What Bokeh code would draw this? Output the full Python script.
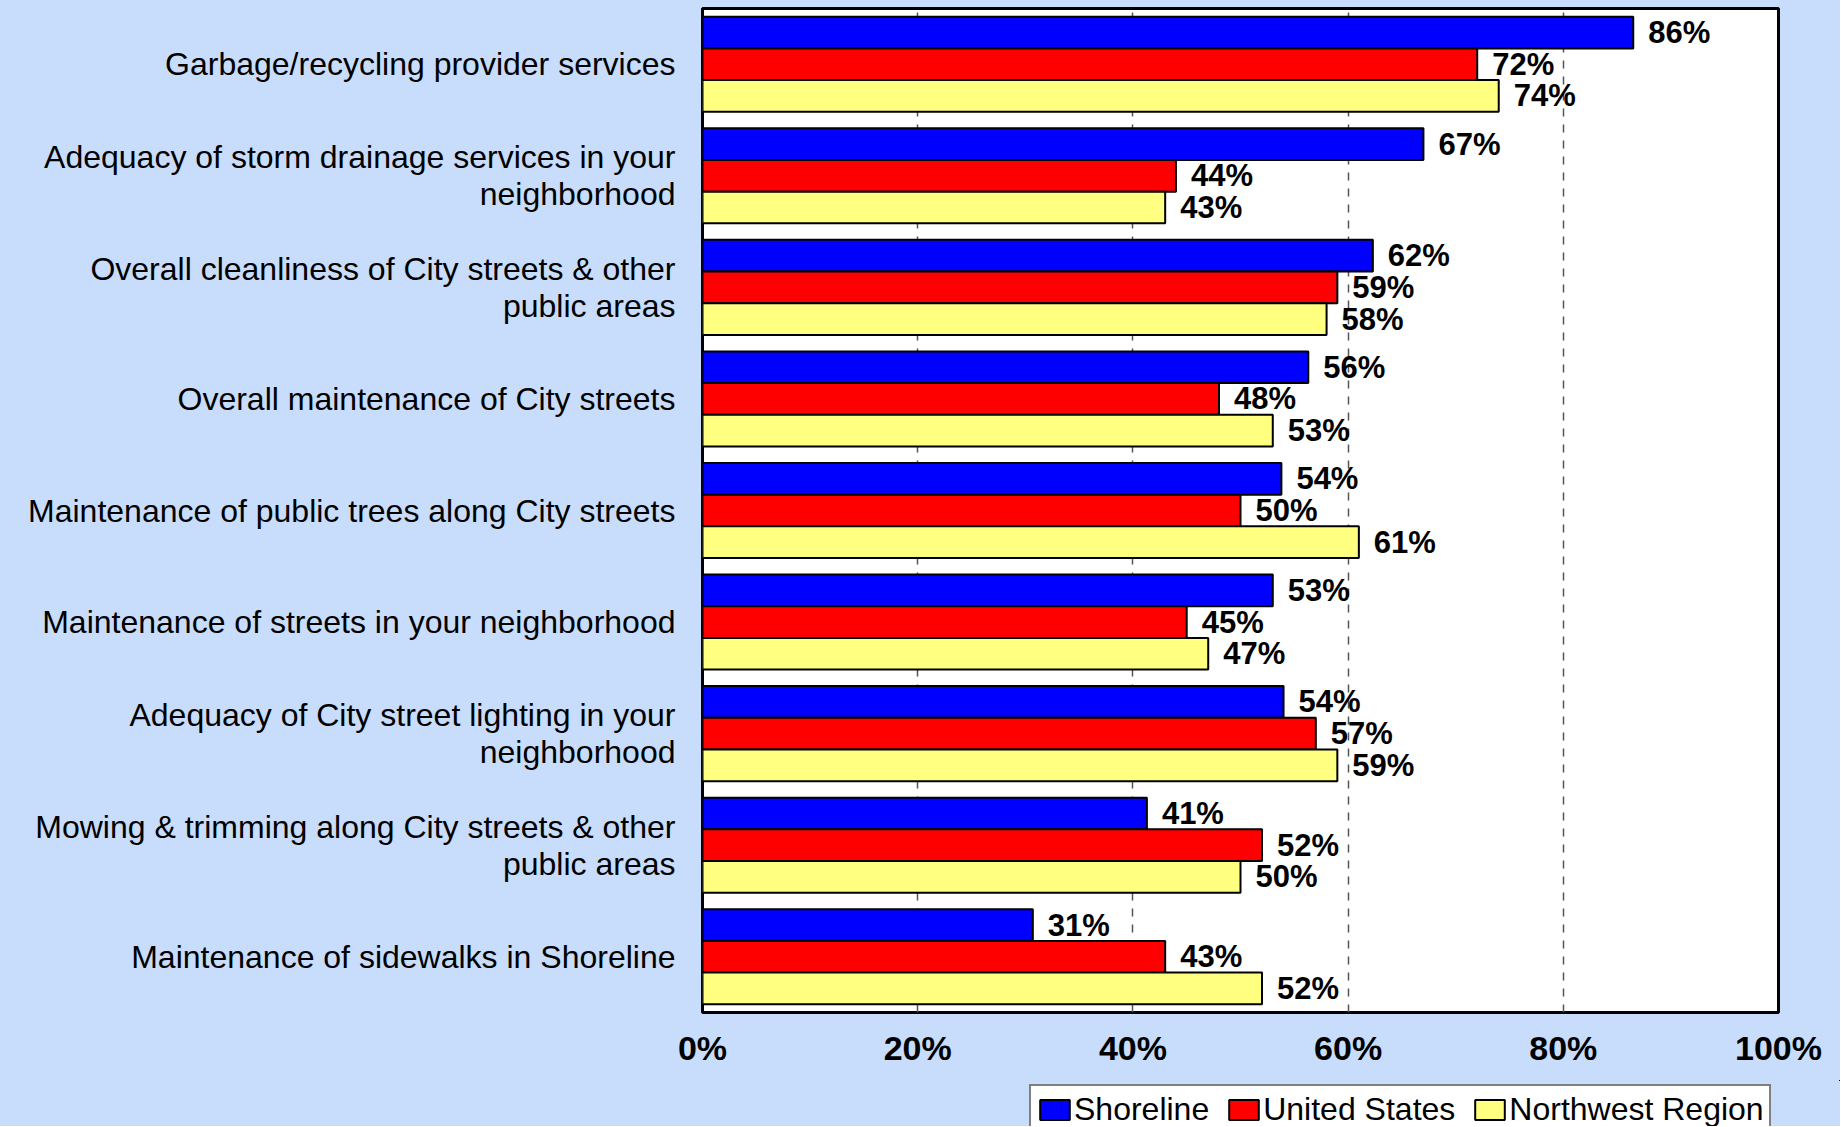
from bokeh.plotting import figure
from bokeh.layouts import row, column
from bokeh.models import (ColumnDataSource, FactorRange, Range1d, FixedTicker,
                          Legend, LegendItem)
from bokeh.transform import dodge
from bokeh.core.properties import value
from bokeh.embed import file_html
from bokeh.resources import INLINE

# ---------------- data ----------------
categories = [
    "Garbage/recycling provider services",
    "Adequacy of storm drainage services in your neighborhood",
    "Overall cleanliness of City streets & other public areas",
    "Overall maintenance of City streets",
    "Maintenance of public trees along City streets",
    "Maintenance of streets in your neighborhood",
    "Adequacy of City street lighting in your neighborhood",
    "Mowing & trimming along City streets & other public areas",
    "Maintenance of sidewalks in Shoreline",
]
category_labels = [
    "Garbage/recycling provider services",
    "Adequacy of storm drainage services in your\nneighborhood",
    "Overall cleanliness of City streets & other\npublic areas",
    "Overall maintenance of City streets",
    "Maintenance of public trees along City streets",
    "Maintenance of streets in your neighborhood",
    "Adequacy of City street lighting in your\nneighborhood",
    "Mowing & trimming along City streets & other\npublic areas",
    "Maintenance of sidewalks in Shoreline",
]
series_names = ["Shoreline", "United States", "Northwest Region"]
shoreline = [86.5, 67, 62.3, 56.3, 53.8, 53, 54, 41.3, 30.7]
united_states = [72, 44, 59, 48, 50, 45, 57, 52, 43]
northwest = [74, 43, 58, 53, 61, 47, 59, 50, 52]
tick_values = [0, 20, 40, 60, 80, 100]
tick_labels = ["0%", "20%", "40%", "60%", "80%", "100%"]

# ---------------- styling ----------------
BG = "#C8DCFC"
colors = ["#0000FF", "#FF0000", "#FFFF80"]
FONT = "Liberation Sans"
BAR_H = 0.284
offsets = [BAR_H, 0.0, -BAR_H]
TOTAL_W, TOTAL_H = 1840, 1126
CHART_H = 1080
TOP = 8
BOTTOM = CHART_H - 1012
LABEL_W = 676
PLOT_LEFT = 26


def pct(vals):
    return [f"{round(v)}%" for v in vals]


source = ColumnDataSource(dict(
    cat=categories,
    s0=shoreline, s1=united_states, s2=northwest,
    l0=pct(shoreline), l1=pct(united_states), l2=pct(northwest),
))
label_source = ColumnDataSource(dict(cat=categories, lab=category_labels,
                                     x=[1.0] * len(categories)))

yr = FactorRange(factors=list(reversed(categories)), range_padding=0)

# ---------- main chart ----------
p = figure(
    width=TOTAL_W - LABEL_W, height=CHART_H,
    y_range=yr, x_range=Range1d(0, 100),
    output_backend="svg", toolbar_location=None,
    min_border_left=PLOT_LEFT, min_border_right=TOTAL_W - LABEL_W - PLOT_LEFT - 1076,
    min_border_top=TOP, min_border_bottom=BOTTOM,
)
p.background_fill_color = "white"
p.border_fill_color = BG
p.outline_line_color = "black"
p.outline_line_width = 3

p.xgrid.ticker = FixedTicker(ticks=tick_values)
p.xgrid.grid_line_color = "#555555"
p.xgrid.grid_line_dash = "8 8"
p.xgrid.grid_line_width = 1.5
p.ygrid.grid_line_color = None

p.xaxis.ticker = FixedTicker(ticks=tick_values)
p.xaxis.major_label_overrides = {v: t for v, t in zip(tick_values, tick_labels)}
p.xaxis.axis_line_color = None
p.xaxis.major_tick_line_color = None
p.xaxis.minor_tick_line_color = None
p.xaxis.major_label_text_font = FONT
p.xaxis.major_label_text_font_style = "bold"
p.xaxis.major_label_text_font_size = "34px"
p.xaxis.major_label_text_color = "black"
p.xaxis.major_label_standoff = 10

p.yaxis.visible = False

for i, col in enumerate(colors):
    p.hbar(y=dodge("cat", offsets[i], range=yr), left=0, right=f"s{i}",
           height=BAR_H, source=source, fill_color=col,
           line_color="black", line_width=2)
    p.text(x=f"s{i}", y=dodge("cat", offsets[i], range=yr), text=f"l{i}",
           source=source, x_offset=15, text_baseline="middle", text_align="left",
           text_font=value(FONT), text_font_style="bold",
           text_font_size="31px", text_color="black")

# ---------- category labels (left) ----------
lf = figure(
    width=LABEL_W, height=CHART_H,
    y_range=yr, x_range=Range1d(0, 1),
    output_backend="svg", toolbar_location=None,
    min_border_left=0, min_border_right=0,
    min_border_top=TOP, min_border_bottom=BOTTOM,
)
lf.axis.visible = False
lf.grid.grid_line_color = None
lf.outline_line_color = None
lf.background_fill_color = BG
lf.border_fill_color = BG
lf.text(x="x", y="cat", text="lab", source=label_source,
        x_offset=-1, text_align="right", text_baseline="middle",
        text_font=value(FONT), text_font_size="32px", text_color="black",
        text_line_height=1.02)

# ---------- legend strip (bottom) ----------
lg = figure(
    width=TOTAL_W, height=TOTAL_H - CHART_H,
    x_range=Range1d(0, 1), y_range=Range1d(0, 1),
    output_backend="svg", toolbar_location=None,
    min_border_left=0, min_border_right=0, min_border_top=0, min_border_bottom=0,
)
lg.axis.visible = False
lg.grid.grid_line_color = None
lg.outline_line_color = None
lg.background_fill_color = BG
lg.border_fill_color = BG
# legend proxies: same series data, lying outside this strip's (0..1) ranges
leg_renderers = []
for i, col in enumerate(colors):
    leg_renderers.append(lg.hbar(y=f"s{i}", left=f"s{i}", right=f"s{i}", height=BAR_H,
                                 source=source, fill_color=col,
                                 line_color="black", line_width=2))
legend = Legend(
    items=[LegendItem(label=n, renderers=[r]) for n, r in zip(series_names, leg_renderers)],
    orientation="horizontal",
    location=(1029, -9),
    border_line_color="black", border_line_width=2,
    background_fill_color="white", background_fill_alpha=1,
    label_text_font=FONT, label_text_font_size="32px", label_text_color="black",
    label_height=20,
    glyph_width=37, glyph_height=25, label_standoff=1, spacing=16,
    padding=5, margin=0,
)
lg.add_layout(legend, "center")

layout = column(row(lf, p, spacing=0, styles={"background-color": BG}), lg,
                spacing=0, styles={"background-color": BG})
open("out.html", "w").write(file_html(layout, INLINE))
